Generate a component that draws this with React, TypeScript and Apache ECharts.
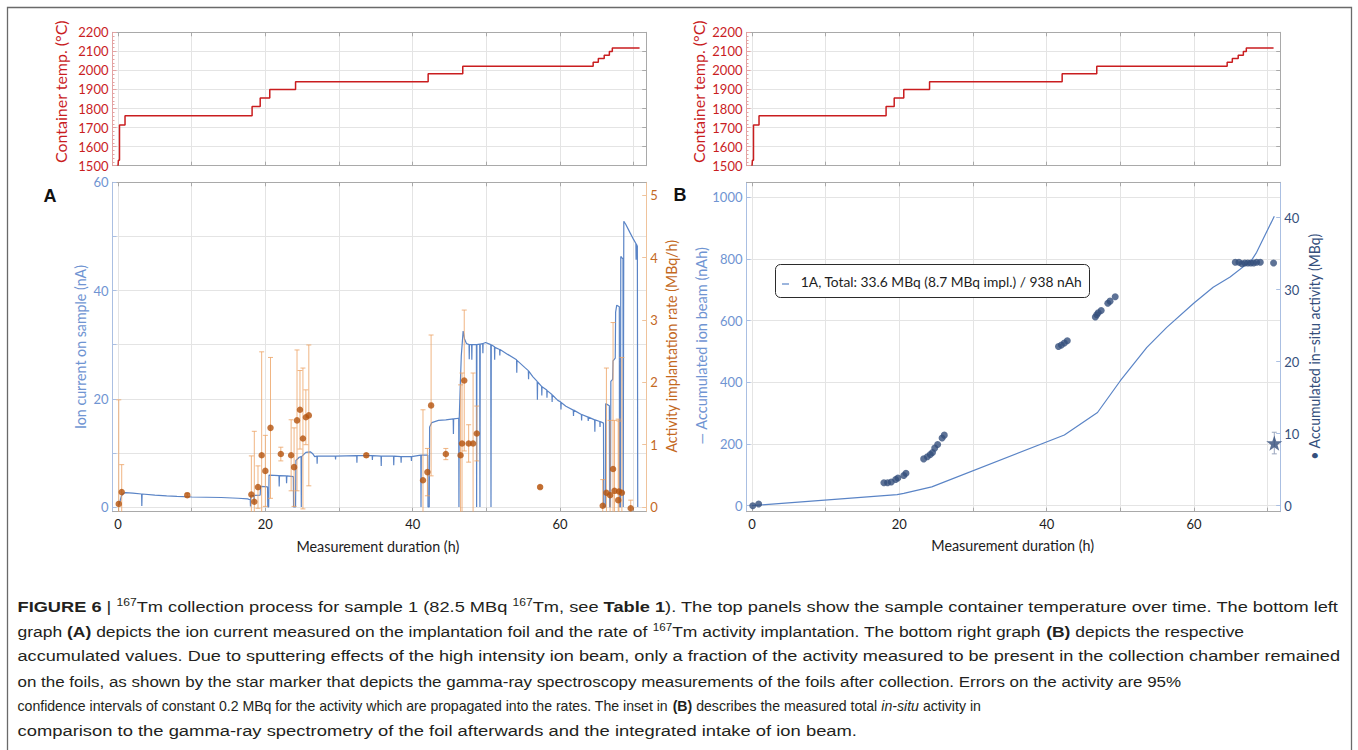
import React, { useEffect, useRef } from 'react';
import * as echarts from 'echarts';

// ---------------------------------------------------------------- data

// Sample container temperature: [hour at which the level starts, °C]
const temperatureSteps: [number, number][] = [
  [0.0, 1500], [0.05, 1528], [0.2, 1713], [0.95, 1762], [18.2, 1810], [19.3, 1855],
  [20.6, 1900], [24.1, 1941], [42.1, 1983], [46.8, 2022], [64.5, 2043], [65.2, 2062],
  [66.0, 2080], [66.7, 2099], [67.1, 2117], [70.8, 2117],
];

// Ion current on the sample: [hour, nA]
const ionCurrent: [number, number][] = [
  [0.0, 0.3], [0.15, 0.5], [0.3, 1.2], [0.45, 2.0], [0.7, 2.5], [1.0, 2.65], [2.0, 2.55],
  [3.2, 2.4], [3.23, 0.2], [3.27, 2.4], [5.0, 2.2], [6.6, 2.05], [8.0, 1.95], [10.0, 1.85],
  [12.0, 1.8], [14.0, 1.75], [16.3, 1.62], [17.6, 1.5], [17.8, 1.38], [17.95, 1.35],
  [17.98, 0.1], [18.02, 2.1], [18.45, 2.1], [18.48, 0.7], [18.52, 2.15], [19.3, 2.2],
  [19.35, 3.8], [20.3, 3.7], [20.33, 0.0], [20.45, 0.0], [20.5, 5.9], [21.85, 5.8],
  [21.88, 3.8], [21.92, 5.8], [22.85, 5.75], [22.88, 4.4], [22.92, 5.75], [23.8, 5.6],
  [23.83, 0.0], [24.1, 0.0], [24.15, 8.6], [24.6, 9.2], [24.85, 9.3], [24.88, 0.0],
  [24.92, 9.3], [25.5, 10.1], [26.1, 10.2], [26.4, 9.9], [26.7, 9.3], [27.0, 9.4],
  [27.03, 8.0], [27.06, 9.4], [29.5, 9.4], [29.53, 8.8], [29.56, 9.4], [32.4, 9.5],
  [32.43, 8.2], [32.46, 9.5], [34.5, 9.5], [34.53, 8.7], [34.56, 9.5], [35.7, 9.4],
  [35.73, 7.6], [35.76, 9.4], [37.4, 9.4], [37.43, 7.7], [37.46, 9.4], [38.4, 9.3],
  [38.43, 8.2], [38.46, 9.3], [39.8, 9.3], [39.83, 8.5], [39.86, 9.3], [41.1, 9.6],
  [41.13, 0.0], [41.17, 9.6], [42.05, 9.6], [42.08, 0.0], [42.25, 0.0], [42.3, 14.8],
  [42.6, 15.6], [43.5, 16.0], [44.5, 16.1], [45.5, 16.3], [45.53, 13.5], [45.56, 16.3],
  [46.25, 16.4], [46.28, 0.0], [46.32, 16.3], [46.45, 22.0], [46.6, 28.0], [46.85, 32.5],
  [47.05, 31.0], [47.3, 30.2], [47.65, 30.0], [47.68, 27.3], [47.71, 30.0], [48.0, 30.0],
  [48.03, 27.2], [48.06, 30.0], [48.65, 30.0], [48.68, 0.0], [48.72, 30.0], [49.1, 30.1],
  [49.13, 0.0], [49.17, 30.1], [49.5, 30.2], [49.53, 28.4], [49.56, 30.2], [49.9, 30.4],
  [50.6, 30.0], [50.63, 0.0], [50.67, 30.0], [51.1, 29.6], [51.13, 27.2], [51.16, 29.5],
  [51.8, 29.1], [51.83, 28.0], [51.86, 29.1], [52.9, 28.2], [54.1, 27.2], [54.13, 24.8],
  [54.16, 27.1], [55.2, 25.8], [55.7, 25.2], [55.73, 23.6], [55.76, 25.1], [56.3, 24.1],
  [56.9, 23.2], [56.93, 19.8], [56.96, 23.1], [57.5, 22.3], [57.53, 20.6], [57.56, 22.2],
  [58.2, 21.6], [58.23, 20.2], [58.26, 21.5], [58.9, 20.8], [58.93, 19.4], [58.96, 20.7],
  [59.7, 19.7], [60.1, 19.4], [60.13, 18.0], [60.16, 19.3], [60.8, 18.6], [61.8, 17.9],
  [61.83, 16.8], [61.86, 17.9], [62.9, 17.1], [62.93, 16.0], [62.96, 17.1], [63.8, 16.6],
  [63.83, 15.9], [63.86, 16.6], [64.7, 16.1], [64.73, 13.9], [64.76, 16.1], [65.4, 15.8],
  [65.43, 14.8], [65.46, 15.8], [65.9, 15.5], [65.93, 0.0], [66.15, 0.0], [66.2, 19.1],
  [66.7, 18.7], [66.73, 0.0], [66.85, 0.0], [66.9, 23.2], [67.15, 23.6], [67.2, 27.0],
  [67.5, 27.5], [67.55, 36.0], [67.7, 37.3], [68.05, 37.0], [68.08, 0.0], [68.2, 0.0],
  [68.25, 46.3], [68.55, 45.8], [68.58, 0.0], [68.62, 0.0], [68.66, 52.8], [68.9, 52.3],
  [69.5, 50.7], [70.0, 49.4], [70.3, 48.7], [70.33, 45.7], [70.36, 48.6], [70.5, 48.2],
  [70.55, 0.0],
];

// Activity implantation rate (MBq/h) with 95 % error bars
const rateHours = [
  0.1, 0.5, 9.4, 18.1, 18.5, 19.0, 19.5, 20.0, 20.7, 22.1, 23.5, 23.9, 24.3, 24.7, 25.1,
  25.5, 25.9, 33.7, 41.4, 42.0, 42.5, 44.5, 46.5, 46.7, 47.0, 47.6, 48.2, 48.7, 57.3,
  65.8, 66.3, 66.8, 67.2, 67.4, 67.9, 68.0, 68.4, 69.6,
];
const rateValues = [
  0.05, 0.24, 0.19, 0.2, 0.085, 0.32, 0.83, 0.58, 1.27, 0.85, 0.83, 0.64, 1.39, 1.56, 1.1,
  1.44, 1.47, 0.83, 0.43, 0.56, 1.63, 0.85, 0.83, 1.02, 2.03, 1.02, 1.02, 1.18, 0.32,
  0.02, 0.23, 0.19, 0.61, 0.26, 0.11, 0.25, 0.23, -0.02,
];
const rateErrors = [
  1.67, 0.44, 0.03, 0.62, 1.13, 0.34, 1.66, 0.57, 1.13, 0.11, 0.57, 0.63, 1.13, 0.63, 1.13,
  0.44, 1.13, 0.03, 1.13, 0.38, 1.13, 0.09, 1.13, 1.13, 1.13, 0.3, 1.13, 0.44, 0.02,
  0.42, 2.0, 1.2, 2.35, 1.13, 1.3, 1.13, 2.17, 0.13,
];

// Accumulated in-situ activity (MBq)
const activityHours = [
  0.1, 0.9, 17.9, 18.4, 18.9, 19.5, 19.8, 20.6, 20.9, 23.3, 23.8, 24.2, 24.5, 24.8, 25.2,
  25.8, 26.1, 41.6, 42.0, 42.4, 42.8, 46.6, 46.8, 47.0, 47.4, 48.3, 48.6, 49.3, 65.6,
  66.1, 66.5, 66.9, 67.3, 67.7, 68.1, 68.5, 69.0, 70.8,
];
const activityValues = [
  0.0, 0.25, 3.2, 3.2, 3.3, 3.65, 3.85, 4.2, 4.5, 6.5, 6.8, 7.1, 7.4, 8.0, 8.5,
  9.4, 9.8, 22.1, 22.3, 22.6, 22.9, 26.2, 26.5, 26.8, 27.1, 28.1, 28.4, 29.0, 33.8,
  33.8, 33.6, 33.7, 33.7, 33.7, 33.7, 33.8, 33.8, 33.7,
];

// Accumulated ion beam (nAh)
const beamHours = [0, 0.9, 19.7, 20.6, 24.4, 42.4, 46.9, 50.0, 53.6, 56.3, 60.0, 62.6, 64.9, 67.8, 68.5, 70.9];
const beamValues = [0, 2, 36, 40, 61, 229, 302, 405, 513, 578, 657, 708, 741, 795, 821, 938];

// Gamma-ray spectroscopy of the foils after collection
const foilHour = 70.9;
const foilActivity = 8.7;
const foilError = 1.5;

// Tick sets
const hourTicks = [0, 10, 20, 30, 40, 50, 60, 70];
const hourLabels = [0, 20, 40, 60];
const currentTicks = [0, 10, 20, 30, 40, 50, 60];
const currentLabels = [0, 20, 40, 60];
const rateTicks = [0, 1, 2, 3, 4, 5];
const beamTicks = [0, 200, 400, 600, 800, 1000];
const activityTicks = [0, 10, 20, 30, 40];

const legendText = '1A, Total: 33.6 MBq (8.7 MBq impl.) / 938 nAh';

type Seg = [string, 'n' | 'b' | 'i' | 'sup'];
const captionLines: Seg[][] = [
  [['FIGURE 6', 'b'], [' | ', 'n'], ['167', 'sup'], ['Tm collection process for sample 1 (82.5 MBq ', 'n'], ['167', 'sup'],
    ['Tm, see ', 'n'], ['Table 1', 'b'], ['). The top panels show the sample container temperature over time. The bottom left', 'n']],
  [['graph ', 'n'], ['(A)', 'b'], [' depicts the ion current measured on the implantation foil and the rate of ', 'n'], ['167', 'sup'],
    ['Tm activity implantation. The bottom right graph ', 'n'], ['(B)', 'b'], [' depicts the respective', 'n']],
  [['accumulated values. Due to sputtering effects of the high intensity ion beam, only a fraction of the activity measured to be present in the collection chamber remained', 'n']],
  [['on the foils, as shown by the star marker that depicts the gamma-ray spectroscopy measurements of the foils after collection. Errors on the activity are 95%', 'n']],
  [['confidence intervals of constant 0.2 MBq for the activity which are propagated into the rates. The inset in ', 'n'], ['(B)', 'b'],
    [' describes the measured total ', 'n'], ['in-situ', 'i'], [' activity in', 'n']],
  [['comparison to the gamma-ray spectrometry of the foil afterwards and the integrated intake of ion beam.', 'n']],
];

// ---------------------------------------------------------------- styling

const FONT = 'Lato';
const CAP_FONT = 'Liberation Sans';
const GRID = '#e4e4e4';
const FRAME = '#a9a9a9';
const RED = '#c91d1f';
const BLUE = '#5a84c6';
const BLUE_LABEL = '#6f94d2';
const BLUE_AXIS = '#aabfe2';
const ORANGE = '#b4530d';
const ORANGE_LABEL = '#c4691f';
const ORANGE_AXIS = '#efc39c';
const ERR = 'rgba(236, 163, 100, 0.8)';
const NAVY = '#354f7c';
const INK = '#231f20';

const X_MIN = -0.75;
const X_MAX = 71.7;
const PANEL_W = 533.7;
const LEFT_A = 112.5;
const LEFT_B = 746.5;
const TOP_T = 32.3;
const H_T = 133.4;
const TOP_M = 182.3;
const H_M = 329.4;

const STAR =
  'path://M0,-10L2.35,-3.24L9.51,-3.09L3.8,1.24L5.88,8.09L0,4L-5.88,8.09L-3.8,1.24L-9.51,-3.09L-2.35,-3.24Z';

let measureCtx: CanvasRenderingContext2D | null = null;
function textWidth(text: string, font: string): number {
  if (!measureCtx) measureCtx = document.createElement('canvas').getContext('2d');
  measureCtx!.font = font;
  return measureCtx!.measureText(text).width;
}

const onlyValues = (vals: number[]) => (v: number) =>
  vals.some((x) => Math.abs(x - v) < 1e-9) ? String(v) : '';

function hourAxes(gridIndex: number, withLabels: boolean) {
  const common = {
    type: 'value',
    gridIndex,
    min: X_MIN,
    max: X_MAX,
    axisLine: { show: true, onZero: false, lineStyle: { color: FRAME, width: 1 } },
    axisTick: { show: true, inside: true, length: 4, customValues: hourTicks, lineStyle: { color: FRAME } },
  };
  return [
    {
      ...common,
      position: 'bottom',
      axisLabel: {
        show: withLabels, customValues: hourLabels, formatter: onlyValues(hourLabels),
        margin: 6, color: '#1d1d1d', fontFamily: FONT, fontSize: 13,
      },
      splitLine: { show: true, lineStyle: { color: GRID, width: 1 } },
    },
    { ...common, position: 'top', axisLabel: { show: false }, splitLine: { show: false } },
  ];
}

function sideAxis(
  gridIndex: number, position: 'left' | 'right', min: number, max: number,
  ticks: number[], labels: number[] | null, lineColor: string, labelColor: string, split: boolean,
) {
  return {
    type: 'value',
    gridIndex,
    position,
    min,
    max,
    axisLine: { show: true, onZero: false, lineStyle: { color: lineColor, width: 1 } },
    axisTick: { show: true, inside: true, length: 4, customValues: ticks, lineStyle: { color: lineColor } },
    axisLabel: labels
      ? { show: true, customValues: labels, formatter: onlyValues(labels), margin: 4, color: labelColor, fontFamily: FONT, fontSize: 13 }
      : { show: false },
    splitLine: { show: split, lineStyle: { color: GRID, width: 1 } },
  };
}

function tempAxis(gridIndex: number, position: 'left' | 'right') {
  const left = position === 'left';
  return {
    type: 'value',
    gridIndex,
    position,
    min: 1500,
    max: 2200,
    interval: 100,
    axisLine: { show: true, onZero: false, lineStyle: { color: left ? '#e3a3a3' : FRAME, width: 1 } },
    axisTick: { show: true, inside: true, length: 4, lineStyle: { color: left ? '#e3a3a3' : FRAME } },
    minorTick: { show: left, splitNumber: 5, length: 2, lineStyle: { color: '#e3a3a3' } },
    axisLabel: left
      ? { show: true, margin: 4, color: RED, fontFamily: FONT, fontSize: 13, formatter: (v: number) => String(v) }
      : { show: false },
    splitLine: { show: left, lineStyle: { color: GRID, width: 1 } },
  };
}

// Text squeezed or stretched along its direction to a given length
function fittedText(
  text: string, x: number, y: number, length: number, color: string,
  rotated: boolean, size = 15, weight = 'normal', family = FONT,
) {
  const w = textWidth(text, `${weight} ${size}px ${family}`);
  return {
    type: 'text',
    x,
    y,
    rotation: rotated ? Math.PI / 2 : 0,
    scaleX: length / w,
    z: 20,
    silent: true,
    style: {
      text, fill: color, fontSize: size, fontWeight: weight, fontFamily: family,
      align: 'center', verticalAlign: 'middle',
    },
  };
}

function captionGraphics() {
  const size = 15;
  const fonts: Record<string, string> = {
    n: `${size}px ${CAP_FONT}`,
    b: `bold ${size}px ${CAP_FONT}`,
    i: `italic ${size}px ${CAP_FONT}`,
    sup: `10px ${CAP_FONT}`,
  };
  const rich = {
    n: { fontSize: size, fontFamily: CAP_FONT, lineHeight: 18, fill: INK },
    b: { fontSize: size, fontFamily: CAP_FONT, fontWeight: 'bold', lineHeight: 18, fill: INK },
    i: { fontSize: size, fontFamily: CAP_FONT, fontStyle: 'italic', lineHeight: 18, fill: INK },
    sup: { fontSize: 10, fontFamily: CAP_FONT, lineHeight: 10, verticalAlign: 'top', fill: INK },
  };
  const widths = [1321, 1227, 1323, 1165, 963, 840];
  const ys = [606.7, 631.6, 656.5, 681.4, 706.3, 731.2];
  return captionLines.map((segs, k) => {
    const natural = segs.reduce((acc, [t, s]) => acc + textWidth(t, fonts[s]), 0);
    return {
      type: 'text',
      x: 17.5,
      y: ys[k],
      scaleX: widths[k] / natural,
      silent: true,
      style: {
        text: segs.map(([t, s]) => `{${s}|${t}}`).join(''),
        rich,
        fontSize: size,
        fontFamily: CAP_FONT,
        fill: INK,
        align: 'left',
        verticalAlign: 'middle',
      },
    };
  });
}

function errorBarItem(color: string, cap: number) {
  return (_params: any, api: any) => {
    const t = api.value(0) as number;
    const v = api.value(1) as number;
    const e = api.value(2) as number;
    const top = api.coord([t, v + e]);
    const bot = api.coord([t, v - e]);
    const style = { stroke: color, lineWidth: 1 };
    return {
      type: 'group',
      children: [
        { type: 'line', shape: { x1: top[0], y1: top[1], x2: bot[0], y2: bot[1] }, style },
        { type: 'line', shape: { x1: top[0] - cap, y1: top[1], x2: top[0] + cap, y2: top[1] }, style },
        { type: 'line', shape: { x1: bot[0] - cap, y1: bot[1], x2: bot[0] + cap, y2: bot[1] }, style },
      ],
    };
  };
}

function buildOption() {
  const grid = [
    { left: LEFT_A, top: TOP_T, width: PANEL_W, height: H_T },
    { left: LEFT_A, top: TOP_M, width: PANEL_W, height: H_M },
    { left: LEFT_B, top: TOP_T, width: PANEL_W, height: H_T },
    { left: LEFT_B, top: TOP_M, width: PANEL_W, height: H_M },
  ];

  // x axes: grid g -> bottom 2g, top 2g+1
  const xAxis = [
    ...hourAxes(0, false),
    ...hourAxes(1, true),
    ...hourAxes(2, false),
    ...hourAxes(3, true),
  ];

  // y axes: grid g -> left 2g, right 2g+1
  const yAxis = [
    tempAxis(0, 'left'),
    tempAxis(0, 'right'),
    sideAxis(1, 'left', -0.87, 60, currentTicks, currentLabels, BLUE_AXIS, BLUE_LABEL, true),
    sideAxis(1, 'right', -0.075, 5.21, rateTicks, rateTicks, ORANGE_AXIS, ORANGE_LABEL, false),
    tempAxis(2, 'left'),
    tempAxis(2, 'right'),
    sideAxis(3, 'left', -19.4, 1048, beamTicks, beamTicks, BLUE_AXIS, BLUE_LABEL, true),
    sideAxis(3, 'right', -0.83, 44.9, activityTicks, activityTicks, BLUE_AXIS, NAVY, false),
  ];

  const tempSeries = (xi: number, yi: number) => ({
    type: 'line',
    xAxisIndex: xi,
    yAxisIndex: yi,
    step: 'end',
    data: temperatureSteps,
    symbol: 'none',
    lineStyle: { color: RED, width: 1.5 },
    z: 3,
  });

  const series: any[] = [
    tempSeries(0, 0),
    tempSeries(4, 4),
    {
      type: 'line',
      xAxisIndex: 2,
      yAxisIndex: 2,
      data: ionCurrent,
      symbol: 'none',
      lineStyle: { color: BLUE, width: 1.2 },
      z: 2,
    },
    {
      type: 'custom',
      xAxisIndex: 2,
      yAxisIndex: 3,
      clip: true,
      z: 3,
      encode: { x: 0, y: 1 },
      data: rateHours.map((t, i) => [t, rateValues[i], rateErrors[i]]),
      renderItem: errorBarItem(ERR, 2.5),
    },
    {
      type: 'scatter',
      xAxisIndex: 2,
      yAxisIndex: 3,
      data: rateHours.map((t, i) => [t, rateValues[i]]),
      symbolSize: 6.5,
      itemStyle: { color: ORANGE },
      z: 4,
    },
    {
      type: 'line',
      xAxisIndex: 6,
      yAxisIndex: 6,
      data: beamHours.map((t, i) => [t, beamValues[i]]),
      symbol: 'none',
      lineStyle: { color: BLUE, width: 1.2 },
      z: 2,
    },
    {
      type: 'scatter',
      xAxisIndex: 6,
      yAxisIndex: 7,
      data: activityHours.map((t, i) => [t, activityValues[i]]),
      symbolSize: 7,
      itemStyle: { color: NAVY },
      z: 4,
    },
    {
      type: 'custom',
      xAxisIndex: 6,
      yAxisIndex: 7,
      clip: true,
      z: 3,
      encode: { x: 0, y: 1 },
      data: [[foilHour, foilActivity, foilError]],
      renderItem: errorBarItem('#9aa6bd', 2.5),
    },
    {
      type: 'scatter',
      xAxisIndex: 6,
      yAxisIndex: 7,
      data: [[foilHour, foilActivity]],
      symbol: STAR,
      symbolKeepAspect: true,
      symbolSize: 16,
      itemStyle: { color: NAVY },
      z: 5,
    },
  ];

  const graphic: any[] = [
    // figure border
    {
      type: 'rect',
      shape: { x: 7.5, y: 7.5, width: 1344, height: 760 },
      style: { fill: 'none', stroke: '#6a6a6a', lineWidth: 1.3 },
      silent: true,
      z: 1,
    },
    // panel letters
    {
      type: 'text', x: 50, y: 196, z: 20, silent: true,
      style: { text: 'A', fontSize: 18, fontWeight: 'bold', fontFamily: CAP_FONT, fill: '#111', align: 'center', verticalAlign: 'middle' },
    },
    {
      type: 'text', x: 680, y: 195, z: 20, silent: true,
      style: { text: 'B', fontSize: 18, fontWeight: 'bold', fontFamily: CAP_FONT, fill: '#111', align: 'center', verticalAlign: 'middle' },
    },
    // axis titles
    fittedText('Container temp. (°C)', 61, 91.7, 143, RED, true, 15),
    fittedText('Container temp. (°C)', 699, 91.7, 143, RED, true, 15),
    fittedText('Ion current on sample (nA)', 80, 347, 164, BLUE_LABEL, true, 15),
    fittedText('Activity implantation rate (MBq/h)', 671, 346.3, 213, ORANGE_LABEL, true, 15),
    fittedText('— Accumulated ion beam (nAh)', 701, 345.8, 198, BLUE_LABEL, true, 15),
    fittedText('• Accumulated in−situ activity (MBq)', 1314, 346.7, 227, NAVY, true, 15),
    fittedText('Measurement duration (h)', 377.8, 546.7, 163, '#1d1d1d', false, 15),
    fittedText('Measurement duration (h)', 1012.7, 545.5, 163, '#1d1d1d', false, 15),
    // legend inset
    {
      type: 'rect', z: 30, silent: true,
      shape: { x: 775.5, y: 264.5, width: 314, height: 33, r: 5 },
      style: { fill: '#ffffff', stroke: '#2b2b2b', lineWidth: 1 },
    },
    {
      type: 'line', z: 31, silent: true,
      shape: { x1: 782, y1: 284, x2: 789, y2: 284 },
      style: { stroke: BLUE, lineWidth: 1.2 },
    },
    {
      ...fittedText(legendText, 800.5 + 281.5 / 2, 281, 281.5, '#1d1d1d', false, 14),
      z: 31,
    },
    ...captionGraphics(),
  ];

  return {
    animation: false,
    backgroundColor: '#ffffff',
    grid,
    xAxis,
    yAxis,
    series,
    graphic,
  };
}

export default function App() {
  const ref = useRef<HTMLDivElement>(null);
  useEffect(() => {
    document.body.style.margin = '0';
    const el = ref.current!;
    const chart = echarts.init(el, undefined, { renderer: 'svg' });
    chart.setOption(buildOption() as any);
    return () => chart.dispose();
  }, []);
  return <div ref={ref} style={{ width: 1358, height: 750 }} />;
}
